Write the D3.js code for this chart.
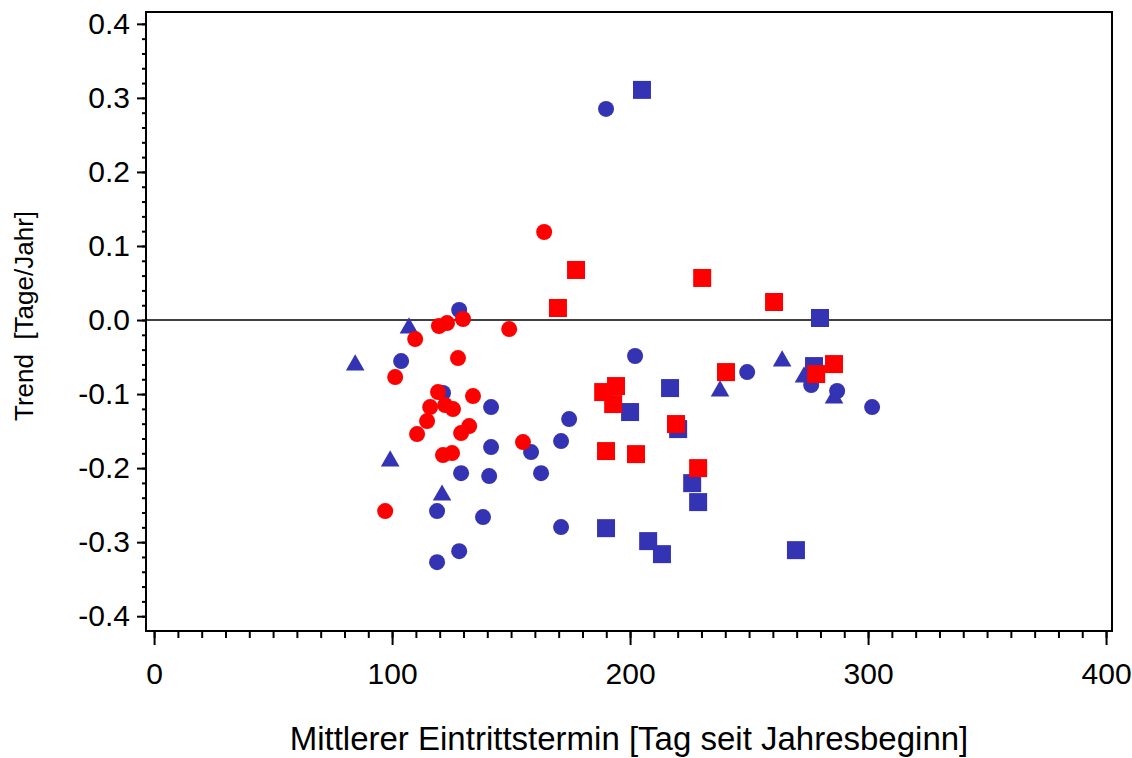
<!DOCTYPE html>
<html>
<head>
<meta charset="utf-8">
<script src="https://cdn.jsdelivr.net/npm/d3@7"></script>
<style>
  body { margin: 0; background: #fff; }
  svg { display: block; font-family: "Liberation Sans", Arial, sans-serif; }
</style>
</head>
<body>
<div id="graph"></div>
<script>
// Punkte: [Tag, Trend]
const blueCircles = [
  [128.2, 0.0135], [103.8, -0.0554], [121.4, -0.0986], [141.6, -0.1176], [141.6, -0.1716],
  [158.4, -0.1784], [171.0, -0.1635], [174.4, -0.1338], [129.0, -0.2068], [140.8, -0.2108],
  [162.6, -0.2068], [118.9, -0.2581], [138.2, -0.2662], [171.0, -0.2797], [128.2, -0.3122],
  [118.9, -0.3270], [189.9, 0.2851], [202.1, -0.0486], [249.2, -0.0703], [276.1, -0.0878],
  [287.0, -0.0959], [301.7, -0.1176]
]
const blueTriangles = [
  [84.5, -0.0608], [107.1, -0.0108], [99.2, -0.1905], [121.0, -0.2365],
  [237.8, -0.0959], [263.9, -0.0554], [273.1, -0.0770], [285.7, -0.1054]
]
const blueSquares = [
  [205.0, 0.3108], [279.8, 0.0027], [216.8, -0.0919], [200.0, -0.1243], [220.2, -0.1473],
  [226.1, -0.2203], [228.6, -0.2459], [189.9, -0.2811], [207.6, -0.2986], [213.4, -0.3162],
  [269.7, -0.3108], [277.3, -0.0622]
]
const redCircles = [
  [119.7, -0.0081], [123.1, -0.0041], [129.8, 0.0014], [149.2, -0.0122], [109.7, -0.0257],
  [127.7, -0.0514], [101.3, -0.0770], [119.3, -0.0973], [134.0, -0.1027], [116.0, -0.1176],
  [122.3, -0.1149], [125.6, -0.1203], [114.7, -0.1365], [110.5, -0.1541], [129.0, -0.1527],
  [132.4, -0.1432], [121.4, -0.1824], [125.2, -0.1797], [155.0, -0.1649], [97.1, -0.2581],
  [163.9, 0.1189]
]
const redSquares = [
  [169.7, 0.0162], [177.3, 0.0676], [230.3, 0.0568], [260.5, 0.0243], [188.7, -0.0973],
  [194.1, -0.0892], [192.9, -0.1135], [240.3, -0.0703], [285.7, -0.0595], [278.2, -0.0730],
  [219.3, -0.1405], [189.9, -0.1770], [202.5, -0.1811], [228.6, -0.2000]
]

const xTicks = [0, 100, 200, 300, 400]
const yTicks = [-0.4, -0.3, -0.2, -0.1, 0.0, 0.1, 0.2, 0.3, 0.4]

const width = 1132
const height = 758
const blue = "#3333b3"
const red = "#ff0000"

const svg = d3.select("#graph").append("svg")
  .attr("width", width)
  .attr("height", height)

const x = d3.scaleLinear().domain([-3.4, 402.5]).range([146, 1112])
const y = d3.scaleLinear().domain([-0.42, 0.416]).range([631, 12])

// Rahmen
svg.append("rect")
  .attr("x", x.range()[0]).attr("y", y.range()[1])
  .attr("width", x.range()[1] - x.range()[0])
  .attr("height", y.range()[0] - y.range()[1])
  .attr("fill", "none").attr("stroke", "#000").attr("stroke-width", 2)

// Nulllinie
svg.append("line")
  .attr("x1", x.range()[0]).attr("x2", x.range()[1])
  .attr("y1", y(0)).attr("y2", y(0))
  .attr("stroke", "#000").attr("stroke-width", 1.6)

// x-Achse
const xMinor = d3.range(0, 401, 10)
svg.append("g")
  .attr("transform", `translate(0,${y.range()[0]})`)
  .call(d3.axisBottom(x).tickValues(xMinor).tickSize(7).tickFormat(""))
  .call(g => g.select(".domain").remove())
  .call(g => g.selectAll("line").attr("stroke-width", 2))
svg.append("g")
  .attr("transform", `translate(0,${y.range()[0]})`)
  .call(d3.axisBottom(x).tickValues(xTicks).tickSize(14).tickPadding(18).tickFormat(d3.format("d")))
  .call(g => g.select(".domain").remove())
  .call(g => g.selectAll("line").attr("stroke-width", 2))
  .call(g => g.selectAll("text").attr("font-size", 30).attr("fill", "#000")
    .attr("font-family", "Liberation Sans, Arial, sans-serif"))

// y-Achse (Bindestrich statt Minuszeichen)
const yMinor = d3.range(-20, 21).map(i => i * 0.02)
svg.append("g")
  .attr("transform", `translate(${x.range()[0]},0)`)
  .call(d3.axisLeft(y).tickValues(yMinor).tickSize(4).tickFormat(""))
  .call(g => g.select(".domain").remove())
  .call(g => g.selectAll("line").attr("stroke-width", 2))
svg.append("g")
  .attr("transform", `translate(${x.range()[0]},0)`)
  .call(d3.axisLeft(y).tickValues(yTicks).tickSize(9).tickPadding(7)
    .tickFormat(d => d3.format(".1f")(d).replace("\u2212", "-")))
  .call(g => g.select(".domain").remove())
  .call(g => g.selectAll("line").attr("stroke-width", 2))
  .call(g => g.selectAll("text").attr("font-size", 30).attr("fill", "#000")
    .attr("font-family", "Liberation Sans, Arial, sans-serif"))

// Achsentitel
svg.append("text")
  .attr("x", (x.range()[0] + x.range()[1]) / 2)
  .attr("y", 750)
  .attr("text-anchor", "middle")
  .attr("font-size", 33)
  .text("Mittlerer Eintrittstermin [Tag seit Jahresbeginn]")

svg.append("text")
  .attr("transform", "translate(33,316) rotate(-90)")
  .attr("text-anchor", "middle")
  .attr("font-size", 26)
  .style("white-space", "pre")
  .text("Trend  [Tage/Jahr]")

// Symbole
const sq = d3.symbol().type(d3.symbolSquare).size(18 * 18)
const tri = d3.symbol().type(d3.symbolTriangle).size(150)

const marks = svg.append("g")

const drawCircles = (data, colour) => marks.append("g").selectAll("circle")
  .data(data)
  .join("circle")
    .attr("cx", d => x(d[0]))
    .attr("cy", d => y(d[1]))
    .attr("r", 8)
    .attr("fill", colour)

const drawSymbols = (data, colour, gen) => marks.append("g").selectAll("path")
  .data(data)
  .join("path")
    .attr("transform", d => `translate(${x(d[0])},${y(d[1])})`)
    .attr("d", gen)
    .attr("fill", colour)

drawSymbols(blueSquares, blue, sq)
drawSymbols(blueTriangles, blue, tri)
drawCircles(blueCircles, blue)
drawSymbols(redSquares, red, sq)
drawCircles(redCircles, red)
</script>
</body>
</html>
